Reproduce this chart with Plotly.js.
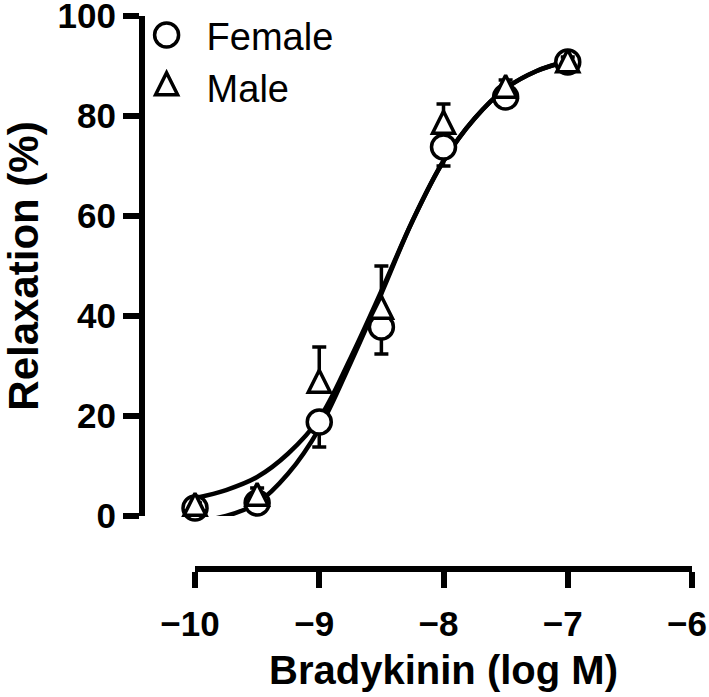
<!DOCTYPE html>
<html>
<head>
<meta charset="utf-8">
<script src="https://cdn.plot.ly/plotly-3.0.1.min.js"></script>
<style>
  html, body { margin: 0; padding: 0; background: #fff; }
  #chart { width: 709px; height: 697px; }
</style>
</head>
<body>
<div id="chart"></div>
<script>
// bradykinin concentration-response, mean + SEM (one-sided bars)
const doses = [-10, -9.5, -9, -8.5, -8, -7.5, -7];
const femaleMean = [1.6, 2.6, 18.8, 37.8, 73.8, 83.8, 90.8];
const femaleSem = [1, 1.5, 5, 5.4, 3.8, 2, 1.5];
const maleMean = [1.6, 3.6, 26.2, 41, 78, 85.2, 90.3];
const maleSem = [1, 2, 7.6, 9, 4.4, 2, 1.5];

// fitted curves
const fitDoses = [-10, -9.75, -9.5, -9.25, -9, -8.75, -8.5, -8.25, -8, -7.75, -7.5, -7.25, -7];
const femaleFit = [-1, 0, 2.6, 8.5, 17.5, 30.5, 44.5, 59, 71, 79.5, 85.5, 89, 91];
const maleFit = [3.6, 5.2, 7.8, 12.5, 19.5, 31.5, 45, 59, 71, 79.5, 85.5, 89, 91];

const xTicks = [-10, -9, -8, -7, -6];
const yTicks = [0, 20, 40, 60, 80, 100];

const FONT = 'Liberation Sans, Arial, Helvetica, sans-serif';

const curveLine = { color: '#000', width: 4.5, shape: 'spline' };

const traces = [
    {
        x: fitDoses, y: femaleFit, mode: 'lines', type: 'scatter',
        line: curveLine, showlegend: false, hoverinfo: 'skip', cliponaxis: false
    },
    {
        x: fitDoses, y: maleFit, mode: 'lines', type: 'scatter',
        line: curveLine, showlegend: false, hoverinfo: 'skip', cliponaxis: false
    },
    {
        x: doses, y: femaleMean, mode: 'markers', type: 'scatter', name: 'Female',
        marker: { symbol: 'circle', size: 24, color: '#fff', line: { color: '#000', width: 3.5 } },
        error_y: { type: 'data', symmetric: false, array: doses.map(() => 0), arrayminus: femaleSem,
                   color: '#000', thickness: 3.5, width: 7 },
        cliponaxis: false
    },
    {
        // arrow-down turned 180deg = upright triangle; standoff lifts it so the centroid sits on the point
        x: doses, y: maleMean, mode: 'markers', type: 'scatter', name: 'Male',
        marker: { symbol: 'arrow-down', angle: 180, size: 22, standoff: 14.7, color: '#fff',
                  line: { color: '#000', width: 3.5 } },
        error_y: { type: 'data', symmetric: false, array: maleSem, arrayminus: doses.map(() => 0),
                   color: '#000', thickness: 3.5, width: 7 },
        cliponaxis: false
    }
];

const axisStyle = {
    showline: true, linecolor: '#000', linewidth: 6,
    ticks: 'outside', ticklen: 16, tickwidth: 6, tickcolor: '#000',
    showgrid: false, zeroline: false,
    ticklabeloverflow: 'allow',
    tickfont: { family: FONT, size: 35, color: '#000', weight: 'bold' }
};

const layout = {
    width: 709, height: 697,
    margin: { l: 142, r: 17, t: 16, b: 128, autoexpand: false },
    paper_bgcolor: '#fff', plot_bgcolor: '#fff',
    font: { family: FONT, color: '#000' },
    showlegend: true,
    legend: {
        x: -0.028, y: 1.022, xanchor: 'left', yanchor: 'top',
        bgcolor: 'rgba(0,0,0,0)', borderwidth: 0,
        itemwidth: 70,
        font: { family: FONT, size: 38, color: '#000' }
    },
    xaxis: Object.assign({}, axisStyle, {
        domain: [0.0964, 1], anchor: 'free', position: 0,
        range: [-10, -6], tickvals: xTicks,
        ticklabelstandoff: 6, ticklabelshift: -5,
        title: { text: 'Bradykinin (log M)', standoff: 13,
                 font: { family: FONT, size: 40, color: '#000', weight: 'bold' } }
    }),
    yaxis: Object.assign({}, axisStyle, {
        domain: [0.0958, 1], anchor: 'free', position: 0,
        range: [0, 100], tickvals: yTicks,
        title: { text: 'Relaxation (%)', standoff: 12,
                 font: { family: FONT, size: 42, color: '#000', weight: 'bold' } }
    })
};

Plotly.newPlot('chart', traces, layout, { displayModeBar: false, staticPlot: true }).then(gd => {
    // legend glyphs are capped at 16px; reuse the full-size marker shapes instead
    const dataTraces = gd.querySelectorAll('.scatterlayer .trace');
    const legendItems = gd.querySelectorAll('.legend .traces');
    [[2, 0], [3, 1]].forEach(([ti, li]) => {
        const src = dataTraces[ti] && dataTraces[ti].querySelector('path.point');
        const dst = legendItems[li] && legendItems[li].querySelector('path.scatterpts');
        if (src && dst) {
            dst.setAttribute('d', src.getAttribute('d'));
            dst.style.strokeWidth = '3.5px';
        }
    });
});
</script>
</body>
</html>
